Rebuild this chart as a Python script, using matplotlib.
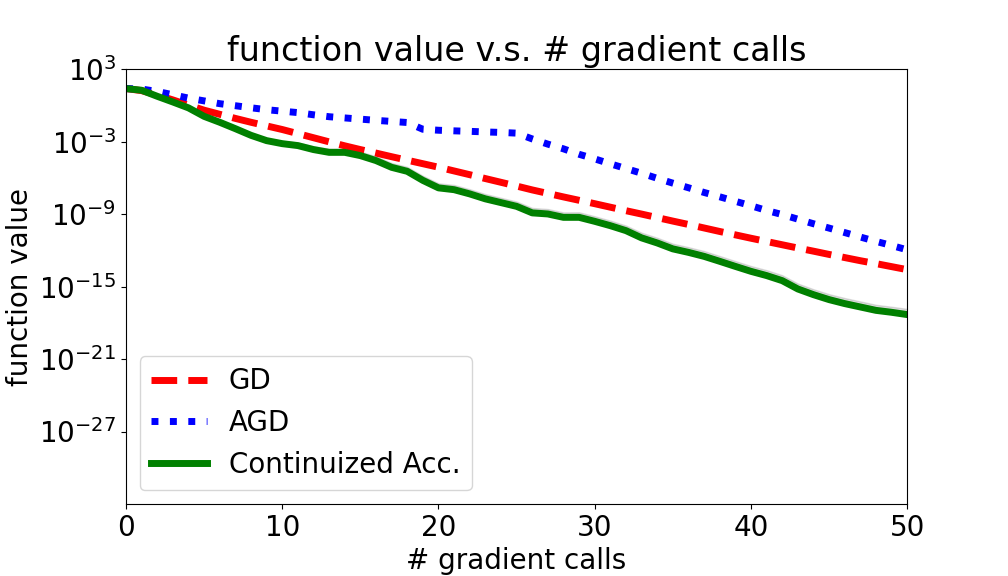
import numpy as np
import matplotlib
matplotlib.use("Agg")
import matplotlib.pyplot as plt

# gradient calls
steps = list(range(51))

# log10 of function value
gd_log = [1.39, 1.22, 0.85, 0.45, 0.02, -0.40, -0.74, -1.08, -1.40, -1.70,
          -2.00, -2.34, -2.68, -3.02, -3.35, -3.66, -3.95, -4.25, -4.54, -4.83,
          -5.12, -5.43, -5.74, -6.06, -6.37, -6.68, -7.00, -7.29, -7.58, -7.86,
          -8.14, -8.43, -8.72, -9.00, -9.29, -9.58, -9.86, -10.15, -10.44, -10.72,
          -11.00, -11.27, -11.54, -11.81, -12.07, -12.34, -12.60, -12.86, -13.10, -13.35,
          -13.60]

agd_log = [1.39, 1.35, 1.15, 0.88, 0.60, 0.37, 0.14, -0.03, -0.20, -0.36,
           -0.48, -0.60, -0.78, -0.94, -1.04, -1.14, -1.24, -1.33, -1.42, -1.98,
           -2.06, -2.11, -2.15, -2.20, -2.24, -2.30, -2.78, -3.21, -3.60, -4.05,
           -4.43, -4.84, -5.23, -5.62, -6.04, -6.44, -6.82, -7.21, -7.57, -7.94,
           -8.31, -8.70, -9.04, -9.42, -9.80, -10.16, -10.53, -10.90, -11.26, -11.60,
           -11.96]

acc_log = [1.39, 1.25, 0.75, 0.28, -0.21, -0.91, -1.40, -1.93, -2.48, -2.92,
           -3.17, -3.33, -3.66, -3.89, -3.89, -4.16, -4.57, -5.13, -5.46, -6.21,
           -6.83, -6.98, -7.33, -7.74, -8.05, -8.36, -8.90, -8.99, -9.27, -9.27,
           -9.60, -9.96, -10.37, -10.97, -11.39, -11.88, -12.17, -12.50, -12.91, -13.33,
           -13.74, -14.09, -14.51, -15.20, -15.67, -16.08, -16.41, -16.69, -16.97, -17.13,
           -17.32]

# spread of the grey band above the continuized curve (decades)
acc_spread = [0.0, 0.0, 0.02, 0.05, 0.08, 0.1, 0.12, 0.15, 0.18, 0.2,
              0.22, 0.25, 0.28, 0.3, 0.32, 0.34, 0.35, 0.36, 0.37, 0.38,
              0.38, 0.39, 0.39, 0.4, 0.4, 0.4, 0.41, 0.41, 0.41, 0.42,
              0.42, 0.42, 0.42, 0.43, 0.43, 0.43, 0.43, 0.44, 0.44, 0.44,
              0.44, 0.45, 0.45, 0.45, 0.45, 0.45, 0.46, 0.46, 0.46, 0.46,
              0.47]

gd = 10.0 ** np.array(gd_log)
agd = 10.0 ** np.array(agd_log)
acc = 10.0 ** np.array(acc_log)
acc_hi = 10.0 ** (np.array(acc_log) + np.array(acc_spread))

fig = plt.figure(figsize=(10.08, 5.76), dpi=100)
ax = fig.add_subplot(111)
fig.subplots_adjust(left=0.125, right=0.9, top=0.88, bottom=0.125)

ax.plot(steps, gd, color="r", linestyle="--", linewidth=5, label="GD")
ax.plot(steps, agd, color="b", linestyle=":", linewidth=5, label="AGD")
ax.fill_between(steps, acc, acc_hi, color="gray", alpha=0.25, linewidth=1)
ax.plot(steps, acc, color="g", linestyle="-", linewidth=5, label="Continuized Acc.")

ax.set_yscale("log")
ax.set_xlim(0, 50)
ax.set_ylim(1e-33, 1e3)
ax.set_yticks([1e3, 1e-3, 1e-9, 1e-15, 1e-21, 1e-27])
ax.minorticks_off()
ax.tick_params(labelsize=20)

ax.set_title("function value v.s. # gradient calls", fontsize=24)
ax.set_xlabel("# gradient calls", fontsize=20)
ax.set_ylabel("function value", fontsize=20)
ax.legend(loc="lower left", fontsize=20)

fig.savefig("out.png", dpi=100)
